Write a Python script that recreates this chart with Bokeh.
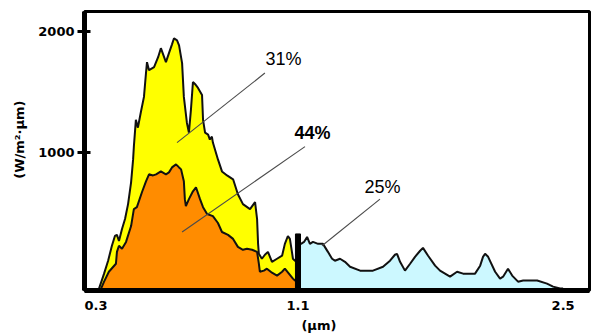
from bokeh.plotting import figure
from bokeh.models import FixedTicker, Label, Range1d
from bokeh.embed import file_html
from bokeh.resources import INLINE

# ---- data (wavelength in µm, spectral irradiance in W/m²·µm) ----
wl_total = [0.312, 0.332, 0.348, 0.363, 0.375, 0.383, 0.391, 0.403, 0.415, 0.427,
            0.439, 0.447, 0.450, 0.458, 0.466, 0.478, 0.490, 0.498, 0.502, 0.510,
            0.530, 0.546, 0.557, 0.577, 0.589, 0.601, 0.609, 0.621, 0.629, 0.641,
            0.648, 0.660, 0.668, 0.676, 0.684, 0.692, 0.704, 0.720, 0.724, 0.732,
            0.744, 0.751, 0.759, 0.763, 0.783, 0.799, 0.819, 0.843, 0.862, 0.882,
            0.910, 0.930, 0.938, 0.942, 0.945, 0.957, 0.969, 0.981, 0.997, 1.017,
            1.037, 1.048, 1.060, 1.068, 1.076, 1.080, 1.088, 1.100]
irr_total = [-123, 0, 107, 230, 311, 320, 270, 369, 451, 574,
             754, 943, 1049, 1270, 1205, 1336, 1459, 1656, 1746, 1680,
             1705, 1787, 1861, 1746, 1820, 1893, 1943, 1926, 1885, 1738,
             1459, 1246, 1164, 1352, 1582, 1566, 1533, 1475, 1270, 1164,
             1148, 1107, 1131, 1082, 943, 844, 811, 779, 656, 574,
             533, 590, 451, 246, 164, 123, 156, 180, 98, 123,
             148, 246, 311, 287, 180, 123, 107, 107]

wl_visible = [0.320, 0.332, 0.351, 0.379, 0.383, 0.391, 0.403, 0.419, 0.439, 0.450,
              0.462, 0.482, 0.498, 0.510, 0.526, 0.538, 0.557, 0.577, 0.589, 0.601,
              0.617, 0.629, 0.637, 0.648, 0.652, 0.656, 0.668, 0.684, 0.696, 0.712,
              0.724, 0.740, 0.763, 0.783, 0.799, 0.823, 0.843, 0.862, 0.882, 0.898,
              0.918, 0.938, 0.945, 0.949, 0.965, 0.977, 0.997, 1.017, 1.037, 1.048,
              1.064, 1.080, 1.088, 1.100]
irr_visible = [-123, -66, 16, 82, 180, 230, 205, 262, 393, 533,
               549, 672, 762, 820, 811, 820, 844, 820, 836, 877,
               902, 877, 861, 762, 615, 557, 615, 680, 713, 615,
               549, 492, 475, 418, 344, 320, 287, 221, 197, 205,
               197, 180, 82, 16, 25, 41, 8, -16, 16, 41,
               0, -41, -57, -57]

wl_ir = [1.100, 1.116, 1.132, 1.148, 1.163, 1.179, 1.206, 1.232, 1.258, 1.280,
         1.295, 1.322, 1.348, 1.375, 1.428, 1.496, 1.549, 1.586, 1.612, 1.623,
         1.639, 1.665, 1.692, 1.718, 1.745, 1.760, 1.787, 1.824, 1.850, 1.903,
         1.940, 1.972, 2.035, 2.062, 2.077, 2.088, 2.104, 2.141, 2.167, 2.183,
         2.209, 2.231, 2.262, 2.289, 2.363, 2.415, 2.447, 2.484, 2.500]
irr_ir = [246, 246, 262, 303, 246, 262, 246, 246, 180, 123,
          107, 123, 98, 57, 25, 25, 57, 107, 156, 164,
          98, 25, 82, 139, 189, 213, 148, 66, 25, -25,
          16, 0, 0, 66, 139, 164, 139, 16, -41, -25,
          41, -16, -66, -57, -57, -82, -107, -123, -123]

divider_wl = 1.1
divider_top = 328

x_ticks = [0.3, 1.1, 2.5]
y_ticks = [1000, 2000]

shares = ["31%", "44%", "25%"]
share_wl = [1.043, 1.177, 1.546]
share_irr = [1770, 1164, 713]
leader_wl0 = [0.969, 1.137, 1.533]
leader_irr0 = [1656, 1049, 615]
leader_wl1 = [0.621, 0.641, 1.227]
leader_irr1 = [1082, 344, 230]

Y_MIN, Y_MAX = -139, 2164
NB = "\u00a0"


def to_axis(lam):
    """The reference axis is compressed beyond 1.1 µm."""
    return round(lam if lam <= 1.1 else 1.1 + 0.75 * (lam - 1.1), 6)


def conv(seq):
    return [to_axis(v) for v in seq]


p = figure(width=592, height=335, output_backend="svg", toolbar_location=None,
           x_range=Range1d(0.2545, 2.2545), y_range=Range1d(Y_MIN, Y_MAX),
           min_border_left=84, min_border_right=3, min_border_top=11, min_border_bottom=43)
p.background_fill_color = "white"
p.border_fill_color = "white"
p.outline_line_color = "black"
p.outline_line_width = 3
p.xgrid.visible = False
p.ygrid.visible = False

# areas
p.varea(x=conv(wl_total), y1=Y_MIN, y2=irr_total, fill_color="#ffff00")
p.line(x=conv(wl_total), y=irr_total, line_color="#111111", line_width=2)
p.varea(x=conv(wl_visible), y1=Y_MIN, y2=irr_visible, fill_color="#ff8c00")
p.line(x=conv(wl_visible), y=irr_visible, line_color="#111111", line_width=2)
p.varea(x=conv(wl_ir), y1=Y_MIN, y2=irr_ir, fill_color="#ccf8ff")
p.line(x=conv(wl_ir), y=irr_ir, line_color="#111111", line_width=2)
p.vbar(x=[to_axis(divider_wl)], width=0.02, bottom=Y_MIN, top=[divider_top],
       fill_color="black", line_color="black")

# leader lines
p.segment(x0=conv(leader_wl0), y0=leader_irr0, x1=conv(leader_wl1), y1=leader_irr1,
          line_color="#4a4a4a", line_width=1.1)

for txt, wl, irr in zip(shares, share_wl, share_irr):
    p.add_layout(Label(x=to_axis(wl), y=irr, text=txt, text_align="center",
                       text_baseline="middle", text_font="Liberation Sans",
                       text_font_size="18px", text_color="black",
                       text_font_style="bold" if txt == "44%" else "normal"))

# axes
xa = p.xaxis[0]
xa.ticker = FixedTicker(ticks=conv(x_ticks))
xa.major_label_overrides = {to_axis(t): str(t) for t in x_ticks}
xa.major_tick_in = 0
xa.major_tick_out = 0
xa.minor_tick_in = 0
xa.minor_tick_out = 0
xa.axis_line_width = 5
xa.axis_line_color = "black"
xa.major_label_standoff = 10
xa.major_label_text_font = "DejaVu Sans"
xa.major_label_text_font_style = "bold"
xa.major_label_text_font_size = "13px"
xa.major_label_text_color = "black"
xa.axis_label = "(µm)" + NB * 8
xa.axis_label_standoff = 5
xa.axis_label_text_font = "DejaVu Sans"
xa.axis_label_text_font_style = "bold"
xa.axis_label_text_font_size = "13px"
xa.axis_label_text_color = "black"

ya = p.yaxis[0]
ya.ticker = FixedTicker(ticks=y_ticks)
ya.major_tick_in = 6
ya.major_tick_out = 7
ya.major_tick_line_width = 3
ya.major_tick_line_color = "black"
ya.minor_tick_in = 0
ya.minor_tick_out = 0
ya.axis_line_width = 5
ya.axis_line_color = "black"
ya.major_label_standoff = 3
ya.major_label_text_font = "DejaVu Sans"
ya.major_label_text_font_style = "bold"
ya.major_label_text_font_size = "13px"
ya.major_label_text_color = "black"
ya.axis_label = NB * 5 + "(W/m²·µm)"
ya.axis_label_standoff = 8
ya.axis_label_text_font = "DejaVu Sans"
ya.axis_label_text_font_style = "bold"
ya.axis_label_text_font_size = "13px"
ya.axis_label_text_color = "black"

open("out.html", "w").write(file_html(p, INLINE))
